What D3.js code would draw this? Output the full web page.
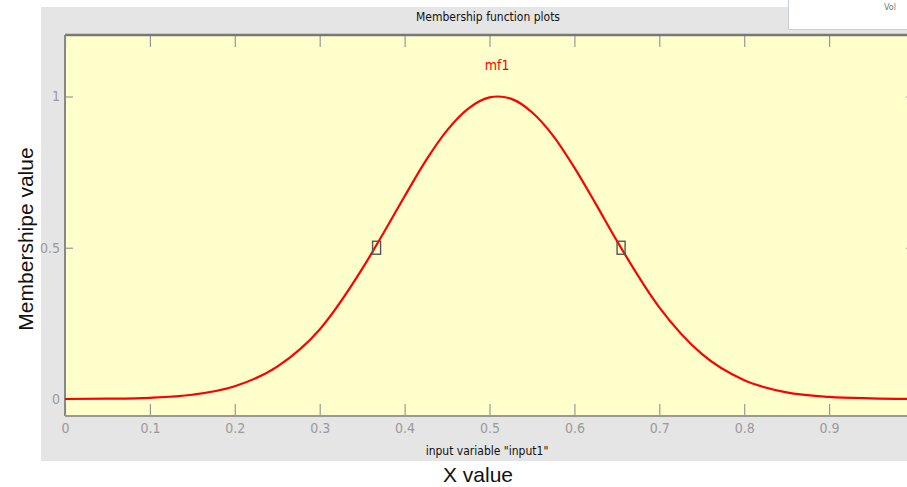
<!DOCTYPE html>
<html>
<head>
<meta charset="utf-8">
<script src="https://cdn.jsdelivr.net/npm/d3@7"></script>
<style>
  body { margin: 0; background: #fff; }
  svg { display: block; }
  .narrow { font-family: "Liberation Sans Narrow", "Arial Narrow", "DejaVu Sans Condensed", sans-serif; }
</style>
</head>
<body>
<script>
// values
var curveX = [0, 0.05, 0.1, 0.15, 0.2, 0.25, 0.3, 0.35, 0.375, 0.4, 0.425, 0.45, 0.475, 0.5, 0.51, 0.525, 0.55, 0.575, 0.6, 0.625, 0.65, 0.7, 0.75, 0.8, 0.85, 0.9, 0.95, 1];
var curveY = [0, 0.001, 0.004, 0.014, 0.042, 0.107, 0.23, 0.43, 0.548, 0.67, 0.788, 0.888, 0.96, 0.997, 1, 0.993, 0.948, 0.87, 0.765, 0.646, 0.523, 0.303, 0.149, 0.062, 0.022, 0.007, 0.002, 0];
var markerX = [0.367, 0.655];
var markerY = [0.5, 0.5];
var xTicks = [0, 0.1, 0.2, 0.3, 0.4, 0.5, 0.6, 0.7, 0.8, 0.9];
var yTicks = [0, 0.5, 1];
var mfName = "mf1";

var W = 907, H = 487;
var pLeft = 65, pRight = 914, pTop = 35, pBottom = 416;

var svg = d3.select("body").append("svg").attr("width", W).attr("height", H);

// gray panel
svg.append("rect").attr("x", 41).attr("y", 7).attr("width", W - 41).attr("height", 454).attr("fill", "#e5e5e5");

// white box top right
svg.append("rect").attr("x", 788.5).attr("y", -1).attr("width", 130).attr("height", 30.5)
    .attr("fill", "#fff").attr("stroke", "#c8d0d8");
svg.append("text").attr("x", 884).attr("y", 10).attr("class", "narrow")
    .attr("font-size", 9).attr("fill", "#777").text("Vol");

svg.append("text").attr("class", "narrow").attr("x", 488).attr("y", 21)
    .attr("text-anchor", "middle").attr("font-size", 12).attr("fill", "#111")
    .text("Membership function plots");

// plot area
svg.append("rect").attr("x", pLeft).attr("y", pTop).attr("width", pRight - pLeft).attr("height", pBottom - pTop)
    .attr("fill", "#ffffcc");

var x = d3.scaleLinear().domain([0, 1]).range([pLeft, pRight]);
var y = d3.scaleLinear().domain([0, 1]).range([399, 96.5]);

function styleAxis(g) {
    g.select(".domain").remove();
    g.selectAll(".tick line").attr("stroke", "#999").attr("stroke-width", 1.2);
    g.selectAll(".tick text").attr("fill", "#9a9a9a").attr("class", "narrow").attr("font-size", 14);
}

svg.append("g").attr("transform", "translate(0," + pBottom + ")")
    .call(d3.axisBottom(x).tickValues(xTicks).tickSize(-12).tickPadding(7).tickFormat(d3.format("")))
    .call(styleAxis);
svg.append("g").attr("transform", "translate(0," + pTop + ")")
    .call(d3.axisTop(x).tickValues(xTicks).tickSize(-12).tickFormat(""))
    .call(styleAxis);
svg.append("g").attr("transform", "translate(" + pLeft + ",0)")
    .call(d3.axisLeft(y).tickValues(yTicks).tickSize(-8).tickPadding(5).tickFormat(d3.format("")))
    .call(styleAxis);
svg.append("g").attr("transform", "translate(" + pRight + ",0)")
    .call(d3.axisRight(y).tickValues(yTicks).tickSize(-8).tickFormat(""))
    .call(styleAxis);

// frame
svg.append("line").attr("x1", pLeft).attr("x2", W).attr("y1", pTop).attr("y2", pTop).attr("stroke", "#777").attr("stroke-width", 2.5);
svg.append("line").attr("x1", pLeft).attr("x2", pLeft).attr("y1", pTop).attr("y2", pBottom).attr("stroke", "#888").attr("stroke-width", 2);
svg.append("line").attr("x1", pLeft).attr("x2", W).attr("y1", pBottom).attr("y2", pBottom).attr("stroke", "#999").attr("stroke-width", 2);

// curve
var pts = curveX.map((d, i) => [d, curveY[i]]);
var line = d3.line().x(d => x(d[0])).y(d => y(d[1])).curve(d3.curveMonotoneX);
svg.append("path").datum(pts).attr("d", line)
    .attr("fill", "none").attr("stroke", "#ff0000").attr("stroke-width", 2.2);

// markers
svg.selectAll("rect.mk")
    .data(markerX)
    .enter().append("rect")
    .attr("class", "mk")
    .attr("x", d => x(d) - 4)
    .attr("y", (d, i) => y(markerY[i]) - 6.5)
    .attr("width", 8)
    .attr("height", 13)
    .attr("fill", "none")
    .attr("stroke", "#555")
    .attr("stroke-width", 1.4);

svg.append("text").attr("class", "narrow").attr("x", x(0.509)).attr("y", 70)
    .attr("text-anchor", "middle").attr("font-size", 14).attr("fill", "#ff0000").text(mfName);

svg.append("text").attr("class", "narrow").attr("x", 487).attr("y", 455)
    .attr("text-anchor", "middle").attr("font-size", 12).attr("fill", "#111")
    .text('input variable "input1"');

svg.append("text").attr("x", 478).attr("y", 482)
    .attr("text-anchor", "middle").attr("font-family", "Liberation Sans, Arial, sans-serif")
    .attr("font-size", 21).attr("fill", "#111").text("X value");

svg.append("text").attr("transform", "translate(33,239) rotate(-90)")
    .attr("text-anchor", "middle").attr("font-family", "Liberation Sans, Arial, sans-serif")
    .attr("font-size", 21).attr("fill", "#111").text("Membershipe value");
</script>
</body>
</html>
